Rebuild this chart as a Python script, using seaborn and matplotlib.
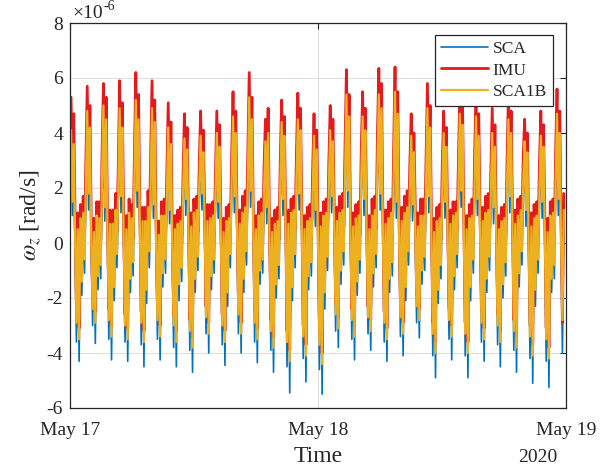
import matplotlib
matplotlib.use("Agg")
import matplotlib.pyplot as plt
import matplotlib.dates as mdates
import matplotlib.ticker as ticker
import numpy as np
import pandas as pd
import seaborn as sns

# angular rate omega_z in units of 1e-6 rad/s, one row per orbit (~94 min),
# 12 samples per orbit starting at the orbit maximum
SCA = [
    [3.6, 1.0, 3.1, -0.3, -3.6, 0.0, -4.3, 0.4, -1.9, 0.7, -1.1, 1.6],
    [4.3, 1.2, 3.7, -0.5, -3.0, -0.1, -3.65, 0.5, -1.7, 0.5, -1.3, 1.9],
    [4.5, 0.8, 4.0, -0.2, -3.5, 0.2, -4.25, 0.3, -2.1, 0.8, -0.9, 1.4],
    [4.4, 1.1, 3.7, -0.4, -3.6, -0.1, -4.3, 0.6, -1.8, 0.5, -1.2, 2.0],
    [4.7, 1.3, 4.0, 0.0, -3.7, 0.3, -4.5, 0.4, -2.2, 0.9, -0.9, 1.7],
    [4.4, 0.9, 3.9, -0.5, -3.5, -0.2, -4.25, 0.5, -1.6, 0.6, -1.1, 1.3],
    [3.7, 0.7, 3.1, -0.6, -3.8, 0.0, -4.5, 0.2, -2.1, 0.4, -1.4, 1.2],
    [3.3, 1.0, 2.9, -0.2, -3.9, 0.1, -4.7, 0.6, -1.8, 0.8, -1.0, 1.5],
    [3.4, 1.2, 2.8, 0.0, -3.3, 0.3, -4.0, 0.4, -1.7, 0.6, -1.1, 1.3],
    [3.5, 0.9, 3.0, -0.4, -3.7, -0.1, -4.45, 0.3, -2.3, 0.5, -0.9, 1.8],
    [4.1, 1.1, 3.5, -0.1, -3.3, 0.2, -4.0, 0.6, -1.8, 0.9, -0.8, 2.0],
    [4.8, 1.3, 4.0, 0.0, -3.6, 0.0, -4.35, 0.5, -1.5, 0.7, -1.1, 1.4],
    [3.2, 0.7, 3.5, -0.3, -3.9, -0.1, -4.7, 0.2, -2.0, 0.4, -1.3, 1.6],
    [3.9, 1.0, 3.4, -0.2, -4.5, 0.2, -5.45, 0.6, -2.1, 0.8, -0.9, 1.8],
    [4.0, 1.2, 3.6, 0.0, -4.2, 0.0, -5.05, 0.3, -1.7, 0.5, -1.2, 1.3],
    [3.4, 0.6, 2.9, -0.5, -4.6, 0.1, -5.5, 0.5, -2.4, 0.7, -1.0, 1.6],
    [3.6, 1.1, 3.2, 0.0, -3.2, 0.3, -3.8, 0.6, -1.5, 0.8, -0.8, 2.0],
    [4.9, 1.3, 4.1, -0.1, -3.5, 0.1, -4.25, 0.4, -1.9, 0.6, -1.1, 1.9],
    [4.1, 1.0, 3.6, -0.3, -3.3, 0.0, -3.9, 0.5, -1.6, 0.8, -0.9, 2.4],
    [4.9, 1.2, 4.4, 0.0, -3.6, 0.2, -4.3, 0.4, -1.8, 0.6, -1.2, 2.0],
    [5.0, 0.9, 4.2, -0.2, -3.4, 0.3, -4.1, 0.6, -2.1, 0.9, -0.8, 1.5],
    [3.4, 0.8, 2.8, 0.0, -2.9, 0.1, -3.45, 0.5, -1.5, 0.5, -1.0, 1.7],
    [4.4, 1.1, 3.7, -0.4, -4.1, -0.1, -4.9, 0.3, -2.2, 0.4, -1.3, 1.4],
    [3.5, 0.9, 3.0, -0.1, -3.5, 0.2, -4.25, 0.5, -1.7, 0.6, -0.9, 1.6],
    [4.2, 1.3, 3.8, -0.3, -4.1, 0.0, -4.9, 0.4, -2.1, 0.5, -1.1, 1.8],
    [4.1, 1.0, 3.4, 0.0, -3.6, 0.3, -4.3, 0.6, -1.8, 0.7, -1.0, 1.3],
    [3.5, 0.7, 3.0, -0.2, -3.7, 0.0, -4.5, 0.3, -2.0, 0.4, -1.2, 1.5],
    [4.0, 1.1, 3.5, 0.0, -3.9, 0.2, -4.7, 0.5, -1.6, 0.7, -0.8, 1.7],
    [3.2, 0.6, 2.8, -0.5, -4.2, 0.1, -5.1, 0.4, -2.3, 0.5, -1.1, 1.4],
    [3.4, 0.9, 3.0, -0.3, -4.3, -0.1, -5.25, 0.5, -1.8, 0.6, -1.3, 2.0],
    [4.2, 1.0, 3.5, -0.4, -4.0, 0.7],
]

IMU = [
    [5.3, 2.2, 4.7, 0.9, -2.5, 1.1, -3.1, 1.4, -0.6, 1.7, 0.3, 3.0],
    [5.7, 2.5, 5.0, 0.6, -2.0, 0.9, -2.5, 1.5, -0.4, 1.5, 0.1, 3.3],
    [5.8, 2.0, 5.3, 1.0, -2.4, 1.2, -3.0, 1.2, -0.8, 1.8, 0.4, 2.8],
    [5.9, 2.4, 5.1, 0.8, -2.6, 1.0, -3.1, 1.6, -0.5, 1.4, 0.2, 3.4],
    [6.2, 2.6, 5.4, 1.1, -2.5, 1.3, -3.2, 1.3, -0.9, 1.9, 0.5, 3.1],
    [5.9, 2.1, 5.2, 0.7, -2.4, 0.8, -3.0, 1.5, -0.3, 1.6, 0.2, 2.7],
    [5.1, 1.9, 4.4, 0.5, -2.6, 1.0, -3.2, 1.2, -0.7, 1.3, 0.0, 2.5],
    [4.7, 2.3, 4.2, 0.9, -2.8, 1.1, -3.4, 1.6, -0.5, 1.7, 0.4, 2.9],
    [4.8, 2.5, 4.1, 1.2, -2.3, 1.4, -2.9, 1.4, -0.4, 1.5, 0.3, 2.6],
    [4.8, 2.2, 4.3, 0.8, -2.6, 0.9, -3.2, 1.3, -0.9, 1.4, 0.5, 3.2],
    [5.5, 2.4, 4.8, 1.0, -2.2, 1.2, -2.9, 1.7, -0.5, 1.9, 0.6, 3.5],
    [6.2, 2.6, 5.3, 1.1, -2.5, 1.0, -3.1, 1.5, -0.2, 1.6, 0.3, 2.8],
    [4.5, 2.0, 4.9, 0.7, -2.8, 0.9, -3.4, 1.2, -0.6, 1.3, 0.1, 3.0],
    [5.2, 2.3, 4.6, 0.9, -3.2, 1.2, -3.9, 1.6, -0.7, 1.7, 0.5, 3.3],
    [5.45, 2.5, 4.9, 1.1, -3.0, 1.0, -3.7, 1.3, -0.4, 1.4, 0.2, 2.7],
    [4.7, 1.9, 4.1, 0.6, -3.3, 1.1, -4.0, 1.5, -0.9, 1.6, 0.4, 3.0],
    [5.0, 2.4, 4.5, 1.2, -2.2, 1.3, -2.7, 1.7, -0.3, 1.8, 0.6, 3.6],
    [6.3, 2.6, 5.4, 1.0, -2.4, 1.1, -3.0, 1.4, -0.6, 1.5, 0.3, 3.4],
    [5.5, 2.3, 4.9, 0.8, -2.3, 1.0, -2.8, 1.6, -0.4, 1.7, 0.5, 4.0],
    [6.35, 2.5, 5.8, 1.1, -2.5, 1.2, -3.1, 1.5, -0.5, 1.6, 0.2, 3.5],
    [6.4, 2.2, 5.5, 0.9, -2.3, 1.3, -2.9, 1.7, -0.7, 1.9, 0.6, 2.9],
    [4.7, 2.1, 4.0, 1.3, -1.9, 1.1, -2.4, 1.6, -0.3, 1.6, 0.4, 3.2],
    [5.8, 2.4, 5.0, 0.7, -2.9, 0.9, -3.6, 1.3, -0.8, 1.4, 0.1, 2.8],
    [4.8, 2.2, 4.2, 1.0, -2.4, 1.2, -3.0, 1.5, -0.4, 1.5, 0.5, 3.1],
    [5.6, 2.6, 5.1, 0.8, -2.9, 1.0, -3.6, 1.4, -0.7, 1.6, 0.3, 3.3],
    [5.5, 2.3, 4.7, 1.1, -2.5, 1.3, -3.1, 1.7, -0.5, 1.8, 0.4, 2.7],
    [4.9, 2.0, 4.3, 0.9, -2.6, 1.0, -3.2, 1.3, -0.6, 1.4, 0.2, 3.0],
    [5.4, 2.4, 4.8, 1.2, -2.8, 1.2, -3.4, 1.6, -0.3, 1.7, 0.6, 3.2],
    [4.5, 1.9, 4.0, 0.6, -3.0, 1.1, -3.7, 1.4, -0.8, 1.5, 0.3, 2.9],
    [4.8, 2.2, 4.3, 0.8, -3.1, 0.9, -3.8, 1.5, -0.5, 1.6, 0.1, 3.4],
    [5.6, 2.3, 4.8, 0.7, -2.9, 1.8],
]

SCA1B = [
    [4.1, 1.5, 3.6, 0.3, -2.9, 0.5, -3.5, 0.9, -1.4, 1.1, -0.6, 2.2],
    [4.8, 1.8, 4.2, 0.1, -2.4, 0.4, -2.9, 1.0, -1.2, 0.9, -0.8, 2.5],
    [5.0, 1.3, 4.5, 0.4, -2.8, 0.7, -3.4, 0.7, -1.6, 1.2, -0.4, 2.0],
    [4.9, 1.7, 4.2, 0.2, -3.0, 0.5, -3.5, 1.1, -1.3, 0.9, -0.7, 2.6],
    [5.2, 1.9, 4.5, 0.5, -2.9, 0.8, -3.6, 0.8, -1.7, 1.3, -0.3, 2.3],
    [4.9, 1.4, 4.4, 0.1, -2.8, 0.3, -3.4, 1.0, -1.1, 1.0, -0.6, 1.9],
    [4.2, 1.2, 3.6, -0.1, -3.0, 0.5, -3.6, 0.7, -1.5, 0.8, -0.9, 1.8],
    [3.8, 1.6, 3.4, 0.3, -3.2, 0.6, -3.8, 1.1, -1.3, 1.2, -0.5, 2.1],
    [3.9, 1.8, 3.3, 0.6, -2.7, 0.8, -3.3, 0.9, -1.2, 1.0, -0.6, 1.9],
    [4.0, 1.5, 3.5, 0.2, -3.0, 0.4, -3.6, 0.8, -1.8, 0.9, -0.4, 2.4],
    [4.6, 1.7, 4.0, 0.4, -2.6, 0.7, -3.3, 1.1, -1.3, 1.3, -0.3, 2.6],
    [5.3, 1.9, 4.5, 0.5, -2.9, 0.5, -3.5, 1.0, -1.0, 1.1, -0.6, 2.0],
    [3.7, 1.3, 4.0, 0.2, -3.2, 0.4, -3.8, 0.7, -1.5, 0.8, -0.8, 2.2],
    [4.4, 1.6, 3.9, 0.3, -3.6, 0.7, -4.3, 1.1, -1.6, 1.2, -0.4, 2.4],
    [4.5, 1.8, 4.1, 0.5, -3.4, 0.5, -4.1, 0.8, -1.2, 0.9, -0.7, 1.9],
    [3.9, 1.2, 3.4, 0.0, -3.7, 0.6, -4.4, 1.0, -1.8, 1.1, -0.5, 2.2],
    [4.1, 1.7, 3.7, 0.6, -2.6, 0.8, -3.1, 1.1, -1.0, 1.2, -0.3, 2.6],
    [5.4, 1.9, 4.6, 0.4, -2.8, 0.6, -3.4, 0.9, -1.4, 1.0, -0.6, 2.5],
    [4.6, 1.6, 4.1, 0.2, -2.7, 0.5, -3.2, 1.0, -1.1, 1.2, -0.4, 3.0],
    [5.4, 1.8, 4.9, 0.5, -2.9, 0.7, -3.5, 0.9, -1.3, 1.1, -0.7, 2.6],
    [5.5, 1.5, 4.7, 0.3, -2.7, 0.8, -3.3, 1.1, -1.6, 1.3, -0.3, 2.1],
    [3.9, 1.4, 3.3, 0.6, -2.3, 0.6, -2.8, 1.0, -1.0, 1.0, -0.5, 2.3],
    [4.9, 1.7, 4.2, 0.1, -3.3, 0.4, -4.0, 0.8, -1.7, 0.9, -0.8, 2.0],
    [4.0, 1.5, 3.5, 0.4, -2.8, 0.7, -3.4, 1.0, -1.2, 1.1, -0.4, 2.2],
    [4.7, 1.9, 4.3, 0.2, -3.3, 0.5, -4.0, 0.9, -1.6, 1.0, -0.6, 2.4],
    [4.6, 1.6, 3.9, 0.5, -2.9, 0.8, -3.5, 1.1, -1.3, 1.2, -0.5, 1.9],
    [4.0, 1.3, 3.5, 0.3, -3.0, 0.5, -3.6, 0.8, -1.5, 0.9, -0.7, 2.1],
    [4.5, 1.7, 4.0, 0.6, -3.2, 0.7, -3.8, 1.0, -1.1, 1.2, -0.3, 2.3],
    [3.7, 1.2, 3.3, 0.0, -3.4, 0.6, -4.1, 0.9, -1.7, 1.0, -0.6, 2.0],
    [3.9, 1.5, 3.5, 0.2, -3.5, 0.4, -4.2, 1.0, -1.3, 1.1, -0.8, 2.5],
    [4.7, 1.6, 4.0, 0.1, -2.8, 1.2],
]

SERIES = ["SCA", "IMU", "SCA1B"]
COLORS = {"SCA": "#0072BD", "IMU": "#E41A1C", "SCA1B": "#EDB120"}
WIDTHS = {"SCA": 1.2, "IMU": 2.0, "SCA1B": 1.6}

START = pd.Timestamp("2020-05-17")
T0_H = 0.1             # first sample, hours after start
STEP_H = 1.5677 / 12   # sample spacing (orbit period / 12)


def to_frame(name, rows):
    vals = np.array([v for row in rows for v in row]) * 1e-6
    hours = T0_H + STEP_H * np.arange(len(vals))
    return pd.DataFrame({
        "time": START + pd.to_timedelta(hours, unit="h"),
        "omega": vals,
        "series": name,
    })


df = pd.concat([to_frame("SCA", SCA), to_frame("IMU", IMU),
                to_frame("SCA1B", SCA1B)], ignore_index=True)

sns.set_theme(style="white")
plt.rcParams["font.family"] = ["Liberation Serif", "DejaVu Serif"]
plt.rcParams["mathtext.fontset"] = "stix"
plt.rcParams["axes.unicode_minus"] = False

fig, ax = plt.subplots(figsize=(6.14, 4.68), dpi=100)
fig.subplots_adjust(left=70 / 614, right=566 / 614, bottom=60 / 468, top=445 / 468)

for name in SERIES:
    sns.lineplot(data=df[df["series"] == name], x="time", y="omega",
                 color=COLORS[name], linewidth=WIDTHS[name], label=name,
                 estimator=None, sort=False, ax=ax)

ax.set_xlim(START, START + pd.Timedelta(days=2))
ax.set_ylim(-6e-6, 8e-6)
ax.set_xticks([START + pd.Timedelta(days=d) for d in range(3)])
ax.xaxis.set_major_formatter(mdates.DateFormatter("%b %d"))
ax.yaxis.set_major_locator(ticker.MultipleLocator(2e-6))
ax.yaxis.set_major_formatter(ticker.FuncFormatter(lambda v, _: f"{round(v * 1e6):d}"))

ax.grid(True, color="#dedede", linewidth=0.8)
ax.tick_params(direction="in", top=True, right=True, length=4, width=0.8,
               labelsize=14, colors="#262626")
ax.tick_params(axis="x", pad=10)
ax.tick_params(axis="y", pad=5)
for sp in ax.spines.values():
    sp.set_color("#262626")
    sp.set_linewidth(0.9)

# MATLAB style exponent label above the y axis
base = ax.text(0.004, (408 - 18) / 385, "×10", transform=ax.transAxes,
               fontsize=14, ha="left", va="baseline", color="#262626")
ax.annotate("-6", xy=(1.0, 0.0), xycoords=base, xytext=(0.5, 9),
            textcoords="offset points", fontsize=10,
            ha="left", va="baseline", color="#262626")

ax.set_xlabel("Time", fontsize=17, color="#262626", labelpad=5)
ax.set_ylabel(r"$\omega_z$ [rad/s]", fontsize=17, color="#262626", labelpad=2)
fig.text(538 / 614, 1 - 462 / 468, "2020", ha="center", va="baseline",
         fontsize=14, color="#262626")

leg = ax.legend(loc="upper right", bbox_to_anchor=(0.974, 0.969),
                borderaxespad=0, fontsize=12.5, handlelength=2.7,
                handletextpad=0.3, labelspacing=0.3, borderpad=0.35,
                fancybox=False, framealpha=1, edgecolor="#262626")
leg.get_frame().set_linewidth(0.9)

fig.savefig("out.png", dpi=100, facecolor="white")
